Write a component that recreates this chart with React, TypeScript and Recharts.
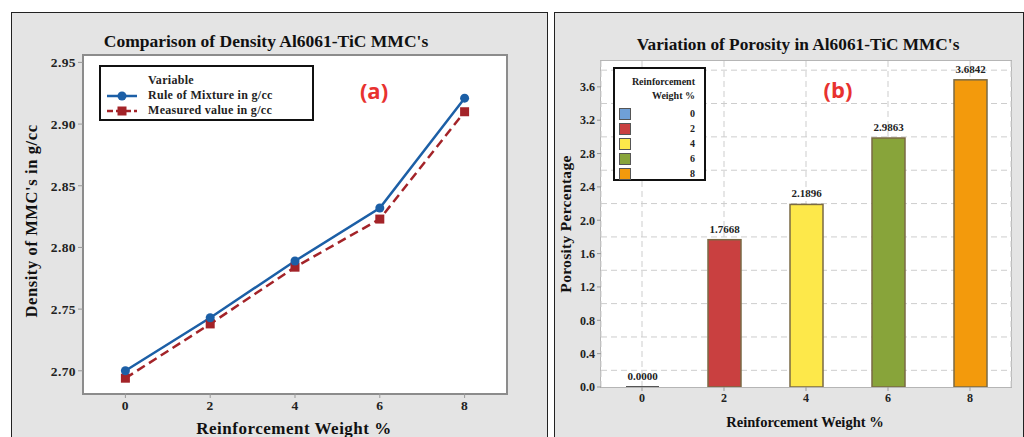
import React from 'react';
import {
  LineChart, Line, BarChart, Bar, Cell, XAxis, YAxis, CartesianGrid, Legend, LabelList,
} from 'recharts';

// density comparison (a)
const weights = [0, 2, 4, 6, 8];
const ruleOfMixture = [2.7, 2.743, 2.789, 2.832, 2.921];
const measured = [2.694, 2.738, 2.784, 2.823, 2.91];
const densityTicks = [2.7, 2.75, 2.8, 2.85, 2.9, 2.95];

// porosity (b)
const porosity = [0.0, 1.7668, 2.1896, 2.9863, 3.6842];
const barColors = ['#6fa0d8', '#c94040', '#fde84a', '#88a43a', '#f39a0c'];
const porosityTicks = [0, 0.4, 0.8, 1.2, 1.6, 2.0, 2.4, 2.8, 3.2, 3.6];
const porosityGridLines = [0.2, 0.4, 0.6, 0.8, 1.0, 1.2, 1.4, 1.6, 1.8, 2.0, 2.2, 2.4, 2.6, 2.8, 3.0, 3.2, 3.4, 3.6, 3.8];

const SERIF = '"Liberation Serif", "DejaVu Serif", serif';
const BLUE = '#1c5fa6';
const RED = '#a32328';

const densityData = weights.map((w, i) => ({ w, rom: ruleOfMixture[i], meas: measured[i] }));
const porosityData = weights.map((w, i) => ({ w: String(w), p: porosity[i] }));

const tickStyle = { fontFamily: SERIF, fontWeight: 700, fontSize: 13.5, fill: '#222', letterSpacing: 0.4 };

function Txt({ x, y, size, children, rotate, color = '#111', family = SERIF, spacing = 0 }: any) {
  return (
    <div
      style={{
        position: 'absolute', left: x, top: y, whiteSpace: 'nowrap',
        transform: `translate(-50%, -50%)${rotate ? ` rotate(${rotate}deg)` : ''}`,
        fontFamily: family, fontWeight: 700, fontSize: size, color, lineHeight: 1, letterSpacing: spacing,
      }}
    >
      {children}
    </div>
  );
}

function SquareDot(props: any) {
  const { cx, cy, index } = props;
  if (cx == null || cy == null) return null;
  return <rect key={`sq-${index}`} x={cx - 4.5} y={cy - 4.5} width={9} height={9} fill={RED} />;
}

function DensityLegend() {
  const row = (color: string, dashed: boolean, square: boolean, label: string) => (
    <div style={{ display: 'flex', alignItems: 'center', height: 15 }}>
      <svg width={34} height={12} style={{ marginRight: 9 }}>
        <line x1={2} x2={32} y1={6} y2={6} stroke={color} strokeWidth={2.5} strokeDasharray={dashed ? '6 3' : undefined} />
        {square ? <rect x={12.5} y={1.5} width={9} height={9} fill={color} /> : <circle cx={17} cy={6} r={4.5} fill={color} />}
      </svg>
      <span>{label}</span>
    </div>
  );
  return (
    <div
      style={{
        width: 215, height: 56, border: '2px solid #111', background: '#fff', letterSpacing: 0.3,
        fontFamily: SERIF, fontWeight: 700, fontSize: 12, color: '#222', padding: '6px 0 0 4px', boxSizing: 'border-box',
      }}
    >
      <div style={{ paddingLeft: 43, height: 15 }}>Variable</div>
      {row(BLUE, false, false, 'Rule of Mixture  in g/cc')}
      {row(RED, true, true, 'Measured value in g/cc')}
    </div>
  );
}

function PorosityLegend() {
  return (
    <div
      style={{
        width: 93, height: 114, border: '2px solid #111', background: '#fff', boxSizing: 'border-box',
        fontFamily: SERIF, fontWeight: 700, fontSize: 10, color: '#222', padding: '6px 9px 0 4px', textAlign: 'right',
      }}
    >
      <div style={{ lineHeight: '14px' }}>Reinforcement</div>
      <div style={{ lineHeight: '14px', marginBottom: 3 }}>Weight %</div>
      {weights.map((w, i) => (
        <div key={w} style={{ display: 'flex', justifyContent: 'space-between', alignItems: 'center', height: 15 }}>
          <div style={{ width: 10, height: 10, background: barColors[i], border: '1px solid #555' }} />
          <span>{w}</span>
        </div>
      ))}
    </div>
  );
}

function PorosityBar(props: any) {
  const { x, y, width, height, fill } = props;
  if (!height || height < 0.5) {
    return <line x1={x} x2={x + width} y1={y} y2={y} stroke="#555" strokeWidth={2} />;
  }
  return <rect x={x} y={y} width={width} height={height} fill={fill} stroke="#7a6a44" strokeWidth={1.5} />;
}

export default function App() {
  return (
    <div style={{ position: 'absolute', left: 0, top: 0, width: 1024, height: 437, overflow: 'hidden', background: '#fff' }}>
      {/* left panel */}
      <div style={{ position: 'absolute', left: 11, top: 12, width: 537, height: 440, border: '1.5px solid #222', background: '#e4e4e4', boxSizing: 'border-box' }} />
      <div style={{ position: 'absolute', left: 82, top: 54, width: 426, height: 341, background: '#fff', border: '2px solid #8c8c8c', boxSizing: 'border-box' }} />
      <Txt x={266} y={42} size={17.5}>Comparison of Density Al6061-TiC MMC's</Txt>
      <Txt x={32} y={221} size={16.5} spacing={0.6} rotate={-90}>Density of MMC's in g/cc</Txt>
      <Txt x={294} y={428} size={17} spacing={0.5}>Reinforcement Weight %</Txt>
      <Txt x={374} y={90} size={22} color="#e8322f" family='"Open Sans", "Liberation Sans", sans-serif'>(a)</Txt>
      <div style={{ position: 'absolute', left: 11, top: 12 }}>
        <LineChart width={536} height={425} data={densityData} margin={{ top: 43, right: 40, bottom: 14, left: 12 }}>
          <XAxis
            dataKey="w" type="number" domain={[-1, 9]} ticks={weights} allowDataOverflow
            axisLine={false} tickLine={{ stroke: '#999' }} tickSize={5} height={30} tick={tickStyle}
          />
          <YAxis
            type="number" domain={[2.682, 2.956]} ticks={densityTicks} allowDataOverflow width={60}
            axisLine={false} tickLine={{ stroke: '#999' }} tickSize={5} tick={tickStyle}
            tickFormatter={(v: number) => v.toFixed(2)}
          />
          <Legend
            layout="vertical" align="center" verticalAlign="middle"
            wrapperStyle={{ left: 88, top: 53, width: 215 }}
            content={() => <DensityLegend />}
          />
          <Line
            type="linear" dataKey="meas" stroke={RED} strokeWidth={2.5} strokeDasharray="9 5"
            dot={SquareDot} activeDot={false} isAnimationActive={false} name="Measured value in g/cc"
          />
          <Line
            type="linear" dataKey="rom" stroke={BLUE} strokeWidth={2.5}
            dot={{ r: 4.5, fill: BLUE, stroke: BLUE, strokeWidth: 0 }} activeDot={false}
            isAnimationActive={false} name="Rule of Mixture  in g/cc"
          />
        </LineChart>
      </div>

      {/* right panel */}
      <div style={{ position: 'absolute', left: 554, top: 12, width: 470, height: 440, border: '1.5px solid #222', background: '#e4e4e4', boxSizing: 'border-box' }} />
      <div style={{ position: 'absolute', left: 600, top: 60, width: 412, height: 328, background: '#fff', border: '1.5px solid #b5b5b5', boxSizing: 'border-box' }} />
      <Txt x={798} y={45} size={17.3}>Variation of Porosity in Al6061-TiC MMC's</Txt>
      <Txt x={566} y={224} size={15.5} spacing={0.3} rotate={-90}>Porosity Percentage</Txt>
      <Txt x={805} y={422} size={14.5}>Reinforcement Weight %</Txt>
      <Txt x={838} y={89} size={22} color="#e8322f" family='"Open Sans", "Liberation Sans", sans-serif'>(b)</Txt>
      <div style={{ position: 'absolute', left: 554, top: 12 }}>
        <BarChart width={469} height={425} data={porosityData} margin={{ top: 49, right: 12, bottom: 20, left: 7 }} barCategoryGap={0}>
          <CartesianGrid
            stroke="#cdcdcd" strokeDasharray="6 4" horizontalValues={porosityGridLines}
          />
          <XAxis
            dataKey="w" axisLine={false} tickLine={{ stroke: '#999' }} tickSize={4} height={30}
            tick={{ ...tickStyle, fontSize: 12, letterSpacing: 0 }}
          />
          <YAxis
            type="number" domain={[0, 3.91]} ticks={porosityTicks} allowDataOverflow width={40}
            axisLine={false} tickLine={{ stroke: '#999' }} tickSize={4}
            tick={{ ...tickStyle, fontSize: 12, letterSpacing: 0 }} tickFormatter={(v: number) => v.toFixed(1)}
          />
          <Legend
            layout="vertical" align="center" verticalAlign="middle"
            wrapperStyle={{ left: 59, top: 55, width: 93 }}
            content={() => <PorosityLegend />}
          />
          <Bar dataKey="p" barSize={33} shape={PorosityBar} isAnimationActive={false}>
            {porosityData.map((d, i) => (
              <Cell key={d.w} fill={barColors[i]} />
            ))}
            <LabelList
              dataKey="p" position="top" offset={7}
              formatter={(v: any) => Number(v).toFixed(4)}
              style={{ fontFamily: SERIF, fontWeight: 700, fontSize: 11, fill: '#222' }}
            />
          </Bar>
        </BarChart>
      </div>
    </div>
  );
}
